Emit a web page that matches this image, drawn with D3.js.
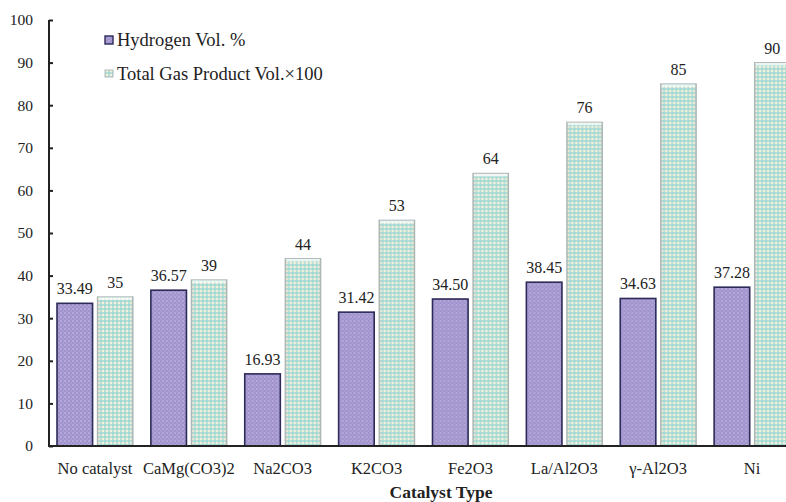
<!DOCTYPE html>
<html>
<head>
<meta charset="utf-8">
<script src="https://cdn.jsdelivr.net/npm/d3@7"></script>
<style>
  html, body { margin: 0; padding: 0; background: #fff; }
  svg { display: block; }
</style>
</head>
<body>
<svg id="chart" width="786" height="502" font-family="'Liberation Serif', 'Times New Roman', 'DejaVu Serif', serif"></svg>
<script>
// Catalyst screening results
const categories = ["No catalyst", "CaMg(CO3)2", "Na2CO3", "K2CO3", "Fe2O3", "La/Al2O3", "\u03B3-Al2O3", "Ni"];
const hydrogenVol = [33.49, 36.57, 16.93, 31.42, 34.50, 38.45, 34.63, 37.28];
const totalGasVol = [35, 39, 44, 53, 64, 76, 85, 90];
const hydrogenLabels = ["33.49", "36.57", "16.93", "31.42", "34.50", "38.45", "34.63", "37.28"];
const totalGasLabels = ["35", "39", "44", "53", "64", "76", "85", "90"];
const seriesNames = ["Hydrogen Vol. %", "Total Gas Product Vol.\u00D7100"];
const yTicks = [0, 10, 20, 30, 40, 50, 60, 70, 80, 90, 100];

const FONT = "'Liberation Serif', 'Times New Roman', 'DejaVu Serif', serif";
const svg = d3.select("#chart");
const defs = svg.append("defs");

// Dotted violet fill
const pDots = defs.append("pattern").attr("id", "dots")
  .attr("patternUnits", "userSpaceOnUse").attr("width", 4).attr("height", 4);
pDots.append("rect").attr("width", 4).attr("height", 4).attr("fill", "#a092cc");
pDots.append("circle").attr("cx", 1).attr("cy", 1).attr("r", 0.8).attr("fill", "#cdc4e8");
pDots.append("circle").attr("cx", 3).attr("cy", 3).attr("r", 0.7).attr("fill", "#bbb0de");

// Gingham teal fill
const pCheck = defs.append("pattern").attr("id", "check")
  .attr("patternUnits", "userSpaceOnUse").attr("width", 4).attr("height", 4);
pCheck.append("rect").attr("width", 4).attr("height", 4).attr("fill", "#f4f1d8");
pCheck.append("rect").attr("x", 0).attr("y", 0).attr("width", 2).attr("height", 4).attr("fill", "#8fd4d6").attr("opacity", 0.6);
pCheck.append("rect").attr("x", 0).attr("y", 0).attr("width", 4).attr("height", 2).attr("fill", "#8fd4d6").attr("opacity", 0.6);

// Bevel shading for the gas bars
const bevel = defs.append("linearGradient").attr("id", "bevel")
  .attr("x1", 0).attr("x2", 1).attr("y1", 0).attr("y2", 0);
bevel.append("stop").attr("offset", "0%").attr("stop-color", "#888").attr("stop-opacity", 0.3);
bevel.append("stop").attr("offset", "12%").attr("stop-color", "#fff").attr("stop-opacity", 0);
bevel.append("stop").attr("offset", "88%").attr("stop-color", "#fff").attr("stop-opacity", 0);
bevel.append("stop").attr("offset", "100%").attr("stop-color", "#888").attr("stop-opacity", 0.3);

const x0 = d3.scaleBand().domain(categories).range([48, 799]).padding(0);
const x1 = d3.scaleBand().domain([0, 1]).range([9, 85]).paddingInner(0.12);
const y = d3.scaleLinear().domain([0, 100]).range([446, 20]);

// Y axis: ticks pointing inward
const yAxis = svg.append("g").attr("transform", "translate(49,0)")
  .call(d3.axisRight(y).tickValues(yTicks).tickSize(4).tickFormat(""));
yAxis.select(".domain").attr("stroke", "#222").attr("stroke-width", 2).attr("d", `M0,${y(100)}V${y(0)}`);
yAxis.selectAll(".tick line").attr("stroke", "#222").attr("stroke-width", 2);

svg.append("g").selectAll("text").data(yTicks).join("text")
  .attr("font-family", FONT).attr("fill", "#222")
  .attr("x", 33).attr("y", d => y(d)).attr("dy", "0.35em")
  .attr("text-anchor", "end").attr("font-size", 15.5)
  .text(d => d);

const groups = svg.append("g").selectAll("g").data(categories).join("g")
  .attr("transform", d => `translate(${x0(d)},0)`);

// Hydrogen bars
groups.append("rect")
  .attr("x", x1(0)).attr("width", x1.bandwidth())
  .attr("y", (d, i) => y(hydrogenVol[i]))
  .attr("height", (d, i) => y(0) - y(hydrogenVol[i]))
  .attr("fill", "url(#dots)").attr("stroke", "#2b2a58").attr("stroke-width", 1.6);

// Gas bars
groups.append("rect")
  .attr("x", x1(1)).attr("width", x1.bandwidth())
  .attr("y", (d, i) => y(totalGasVol[i]))
  .attr("height", (d, i) => y(0) - y(totalGasVol[i]))
  .attr("fill", "url(#check)").attr("stroke", "#b3bcbc").attr("stroke-width", 1.2);
groups.append("rect")
  .attr("x", x1(1)).attr("width", x1.bandwidth())
  .attr("y", (d, i) => y(totalGasVol[i]))
  .attr("height", (d, i) => y(0) - y(totalGasVol[i]))
  .attr("fill", "url(#bevel)");
groups.append("rect")
  .attr("x", x1(1) + 1).attr("width", x1.bandwidth() - 2)
  .attr("y", (d, i) => y(totalGasVol[i]) + 0.5)
  .attr("height", 2.5)
  .attr("fill", "#ffffff").attr("opacity", 0.7);

// Value labels
groups.append("text")
  .attr("font-family", FONT).attr("fill", "#222")
  .attr("x", x1(0) + x1.bandwidth() / 2)
  .attr("y", (d, i) => y(hydrogenVol[i]) - 9)
  .attr("text-anchor", "middle").attr("font-size", 16)
  .text((d, i) => hydrogenLabels[i]);
groups.append("text")
  .attr("font-family", FONT).attr("fill", "#222")
  .attr("x", x1(1) + x1.bandwidth() / 2)
  .attr("y", (d, i) => y(totalGasVol[i]) - 9)
  .attr("text-anchor", "middle").attr("font-size", 16)
  .text((d, i) => totalGasLabels[i]);

// X axis line and category labels
svg.append("line").attr("x1", 48).attr("x2", 786)
  .attr("y1", y(0)).attr("y2", y(0))
  .attr("stroke", "#222").attr("stroke-width", 2);

svg.append("g").selectAll("text").data(categories).join("text")
  .attr("font-family", FONT).attr("fill", "#222")
  .attr("x", d => x0(d) + x0.bandwidth() / 2)
  .attr("y", 474).attr("text-anchor", "middle").attr("font-size", 16.5)
  .text(d => d);

svg.append("text").attr("font-family", FONT).attr("fill", "#222")
  .attr("x", 441).attr("y", 498)
  .attr("text-anchor", "middle").attr("font-size", 17.5).attr("font-weight", "bold")
  .text("Catalyst Type");

// Legend
const legend = svg.append("g");
legend.append("rect").attr("x", 105).attr("y", 36).attr("width", 8).attr("height", 8)
  .attr("fill", "url(#dots)").attr("stroke", "#2b2a58").attr("stroke-width", 1.4);
legend.append("text").attr("font-family", FONT).attr("fill", "#222")
  .attr("x", 117).attr("y", 46).attr("font-size", 18.5).text(seriesNames[0]);
legend.append("rect").attr("x", 105).attr("y", 70).attr("width", 8).attr("height", 7)
  .attr("fill", "url(#check)").attr("stroke", "#b3bcbc").attr("stroke-width", 1);
legend.append("text").attr("font-family", FONT).attr("fill", "#222")
  .attr("x", 117).attr("y", 80).attr("font-size", 18.5).text(seriesNames[1]);
</script>
</body>
</html>
